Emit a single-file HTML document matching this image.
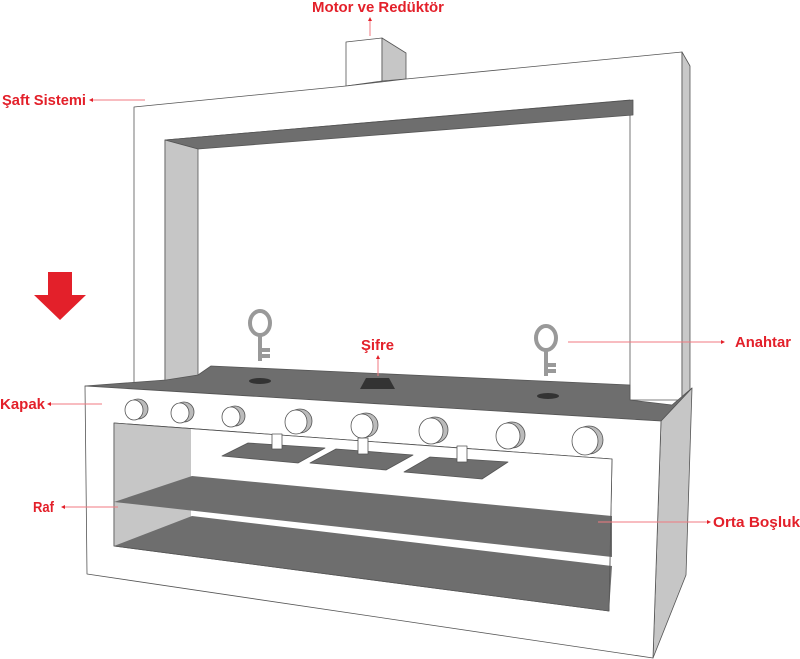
<!DOCTYPE html>
<html><head><style>body{margin:0;background:#fff}svg{display:block}text{font-family:"Liberation Sans Narrow","Liberation Sans",sans-serif;font-weight:bold;font-size:15px;fill:#e3202a}</style></head><body>
<svg width="800" height="659" viewBox="0 0 800 659" xmlns="http://www.w3.org/2000/svg">
<g stroke="#555" stroke-width="0.8" stroke-linejoin="round">
<polygon points="346,42 382,38 382,81 346,86" fill="#fff"/>
<polygon points="382,38 406,53 406,79 382,81" fill="#c6c6c6"/>
<polygon points="134,107 346,86 346,86 406,79 682,52 682,400 630,400 630,100 165,140 165,385 134,385" fill="#fff"/>
<polygon points="682,52 690,66 690,398 682,400" fill="#c8c8c8"/>
<polygon points="165,140 633,100 633,115 198,149" fill="#6e6e6e"/>
<polygon points="165,140 198,149 198,385 165,385" fill="#c6c6c6"/>
<polygon points="661,421 692,388 686,575 653,658" fill="#c6c6c6"/>
<polygon points="85,386 166,380 198,375 211,366 630,385 630,400 672,405 692,388 661,421" fill="#6e6e6e"/>
<path d="M85,386 L661,421 L653,658 L87,574 Z M114,423 L114,546 L609,611 L612,459 Z" fill="#fff" fill-rule="evenodd"/>
<polygon points="114,423 191,429 191,546 114,546" fill="#c6c6c6" stroke="none"/>
<polygon points="191,429 612,459 609,611 191,546" fill="#fff" stroke="none"/>
<polygon points="114,502 192,476 612,516 612,557" fill="#6e6e6e" stroke="none"/>
<polygon points="114,546 192,516 612,566 609,611" fill="#6e6e6e" stroke="none"/>
<polygon points="114,423 612,459 609,611 114,546" fill="none"/>
<polygon points="222,456 248,443 325,448 298,463" fill="#6e6e6e"/>
<polygon points="310,463 336,449 413,455 386,470" fill="#6e6e6e"/>
<polygon points="404,472 430,457 508,462 482,479" fill="#6e6e6e"/>
<rect x="272" y="434" width="10" height="15" fill="#fff"/>
<rect x="358" y="438" width="10" height="16" fill="#fff"/>
<rect x="457" y="446" width="10" height="16" fill="#fff"/>
</g>
<g stroke="#555" stroke-width="0.8">
<g fill="#bbb"><circle cx="138" cy="409" r="10"/><circle cx="184" cy="412" r="10"/><circle cx="235" cy="416" r="10"/><circle cx="300" cy="421" r="12"/><circle cx="366" cy="425" r="12"/><circle cx="435" cy="430" r="13"/><circle cx="512" cy="435" r="13"/><circle cx="589" cy="440" r="14"/></g>
<g fill="#fff"><ellipse cx="134" cy="410" rx="9" ry="10"/><ellipse cx="180" cy="413" rx="9" ry="10"/><ellipse cx="231" cy="417" rx="9" ry="10"/><ellipse cx="296" cy="422" rx="11" ry="12"/><ellipse cx="362" cy="426" rx="11" ry="12"/><ellipse cx="431" cy="431" rx="12" ry="13"/><ellipse cx="508" cy="436" rx="12" ry="13"/><ellipse cx="585" cy="441" rx="13" ry="14"/></g>
</g>
<ellipse cx="260" cy="381" rx="11" ry="3" fill="#333"/>
<ellipse cx="548" cy="396" rx="11" ry="3" fill="#333"/>
<polygon points="366,378 389,378 395,389 360,389" fill="#333"/>
<g stroke="#999" stroke-width="4" fill="none">
<ellipse cx="260" cy="323" rx="10" ry="12"/><line x1="260" y1="335" x2="260" y2="361"/><line x1="260" y1="350" x2="270" y2="350"/><line x1="260" y1="356" x2="270" y2="356"/>
<ellipse cx="546" cy="338" rx="10" ry="12"/><line x1="546" y1="350" x2="546" y2="376"/><line x1="546" y1="365" x2="556" y2="365"/><line x1="546" y1="371" x2="556" y2="371"/>
</g>
<polygon points="48,272 72,272 72,295 86,295 60,320 34,295 48,295" fill="#e3202a"/>
<g stroke="#f07a80" stroke-width="1">
<line x1="370" y1="36" x2="370" y2="20"/><line x1="145" y1="100" x2="92" y2="100"/>
<line x1="102" y1="404" x2="50" y2="404"/><line x1="118" y1="507" x2="64" y2="507"/>
<line x1="598" y1="522" x2="708" y2="522"/><line x1="568" y1="342" x2="722" y2="342"/>
<line x1="378" y1="376" x2="378" y2="358"/>
</g>
<g fill="#e3202a"><polygon points="370,17 368,21 372,21"/><polygon points="89,100 93,98 93,102"/><polygon points="47,404 51,402 51,406"/><polygon points="61,507 65,505 65,509"/><polygon points="711,522 707,520 707,524"/><polygon points="725,342 721,340 721,344"/><polygon points="378,355 376,359 380,359"/></g>
<text x="312" y="12" textLength="132" lengthAdjust="spacingAndGlyphs">Motor ve Redüktör</text>
<text x="2" y="105" textLength="84" lengthAdjust="spacingAndGlyphs">Şaft Sistemi</text>
<text x="361" y="350" textLength="33" lengthAdjust="spacingAndGlyphs">Şifre</text>
<text x="735" y="347" textLength="56" lengthAdjust="spacingAndGlyphs">Anahtar</text>
<text x="0" y="409" textLength="45" lengthAdjust="spacingAndGlyphs">Kapak</text>
<text x="33" y="512" textLength="21" lengthAdjust="spacingAndGlyphs">Raf</text>
<text x="713" y="527" textLength="87" lengthAdjust="spacingAndGlyphs">Orta Boşluk</text>
</svg>
</body></html>
